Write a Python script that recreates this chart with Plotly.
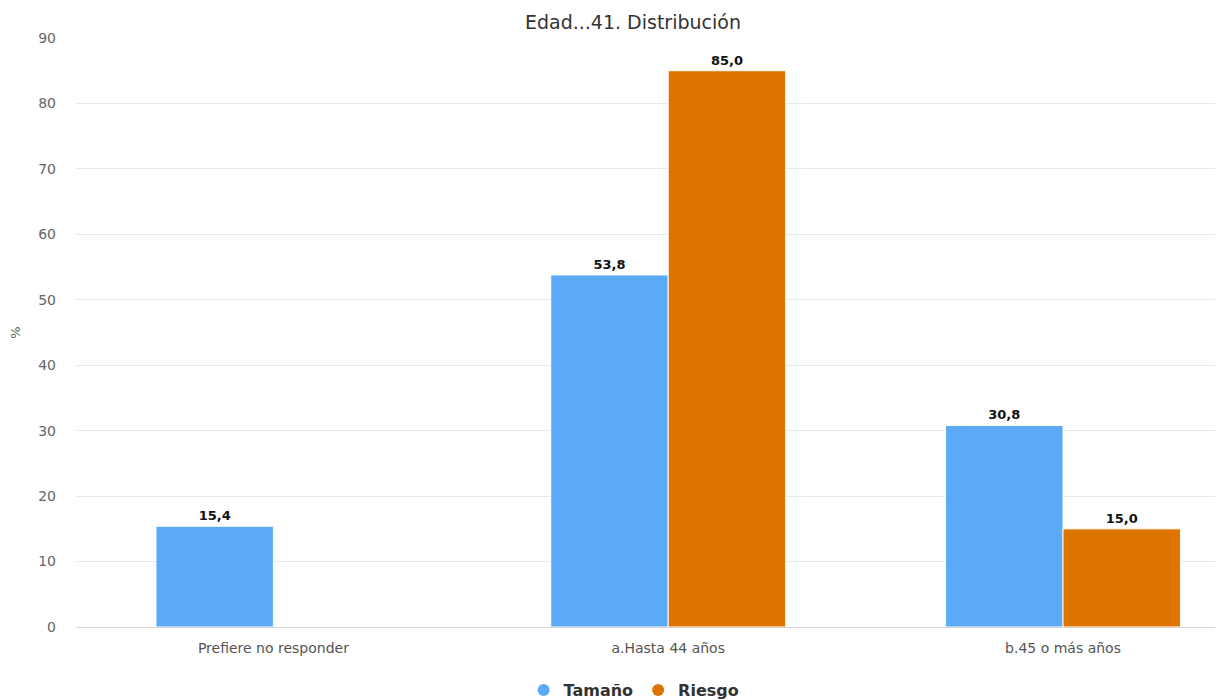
import plotly.graph_objects as go

categories = ["Prefiere no responder", "a.Hasta 44 años", "b.45 o más años"]
tamano = [15.4, 53.8, 30.8]
riesgo = [None, 85.0, 15.0]
series_names = ["Tamaño", "Riesgo"]
colors = ["#5BAAF8", "#DE7400"]
title_text = "Edad...41. Distribución"
y_ticks = list(range(0, 100, 10))


def fmt(vals):
    return ["" if v is None else f"{v:.1f}".replace(".", ",") for v in vals]


fig = go.Figure()
for name, vals, col in zip(series_names, [tamano, riesgo], colors):
    fig.add_trace(go.Bar(
        x=categories, y=vals, name=name, marker=dict(color=col, line=dict(color="#ffffff", width=1)),
        text=fmt(vals), textposition="outside", cliponaxis=False,
        textfont=dict(family="DejaVu Sans", size=13, color="#111111", weight="bold"),
        showlegend=False, hoverinfo="x+y",
    ))
    fig.add_trace(go.Scatter(
        x=[None], y=[None], mode="markers", name=name,
        marker=dict(symbol="circle", size=15, color=col), showlegend=True,
    ))

fig.update_layout(
    width=1219, height=700,
    margin=dict(l=76, r=4, t=38, b=73, autoexpand=False),
    paper_bgcolor="#ffffff", plot_bgcolor="#ffffff",
    barmode="group", bargap=0.405, bargroupgap=0,
    title=dict(text=title_text, x=0.489, xref="paper", xanchor="center",
               y=(700 - 22) / 700, yref="container", yanchor="middle",
               font=dict(family="DejaVu Sans", size=19, color="#333333")),
    xaxis=dict(range=[-0.5, 2.385], showgrid=False, showline=True, linecolor="#d8d8d8",
               tickfont=dict(family="DejaVu Sans", size=14, color="#555555"), ticks="",
               ticklabelstandoff=8),
    yaxis=dict(range=[0, 90], tickvals=y_ticks, showgrid=True, gridcolor="#e8e8e8",
               zeroline=False, ticks="", ticklabelstandoff=19,
               tickfont=dict(family="DejaVu Sans", size=14, color="#666666"),
               title=dict(text="%", standoff=14, font=dict(family="DejaVu Sans", size=13, color="#666666"))),
    legend=dict(orientation="h", x=0.49, xanchor="center", y=10 / 700, yref="container",
                yanchor="middle",
                font=dict(family="DejaVu Sans", size=16, color="#333333", weight="bold"),
                itemsizing="constant", traceorder="normal"),
)

fig.write_html("out.html")
